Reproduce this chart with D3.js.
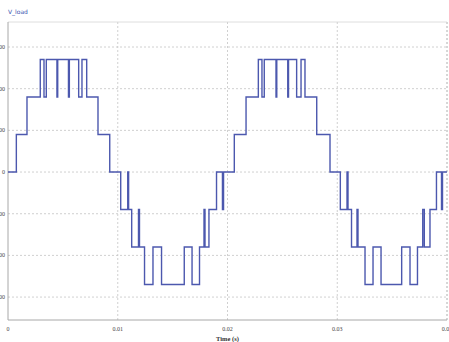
<!DOCTYPE html>
<html>
<head>
<meta charset="utf-8">
<script src="https://cdn.jsdelivr.net/npm/d3@7"></script>
<style>
  body { margin: 0; background: #fff; }
  svg { display: block; }
</style>
</head>
<body>
<div id="chart"></div>
<script>
    // switching instants (s) and the output level (V) after each one
    const switchTimes = [
        0, 0.00076, 0.00173, 0.00294, 0.00328, 0.00349, 0.00446, 0.00453, 0.00551, 0.00559,
        0.00644, 0.00674, 0.00717, 0.00820, 0.00927,
        0.01027, 0.01091, 0.01099, 0.01127, 0.01189, 0.01198, 0.01244, 0.01321, 0.01399,
        0.01606, 0.01677, 0.01745, 0.01786, 0.01795, 0.01831, 0.01900, 0.01954, 0.01964,
        0.02062, 0.02169, 0.02281, 0.02314, 0.02335, 0.02442, 0.02449, 0.02549, 0.02556,
        0.02630, 0.02670, 0.02706, 0.02813, 0.02934,
        0.03028, 0.03089, 0.03098, 0.03130, 0.03180, 0.03189, 0.03253, 0.03326, 0.03399,
        0.03587, 0.03663, 0.03731, 0.03779, 0.03793, 0.03845, 0.03904, 0.03950, 0.03959,
        0.04
    ]
    const switchLevels = [
        0, 90, 180, 270, 180, 270, 180, 270, 180, 270,
        180, 270, 180, 90, 0,
        -90, 0, -90, -180, -90, -180, -270, -180, -270,
        -180, -270, -180, -90, -180, -90, 0, -90, 0,
        90, 180, 270, 180, 270, 180, 270, 180, 270,
        180, 270, 180, 90, 0,
        -90, 0, -90, -180, -90, -180, -270, -180, -270,
        -180, -270, -180, -90, -180, -90, 0, -90, 0,
        0
    ]

    // axis ticks
    const xTicks = [0, 0.01, 0.02, 0.03, 0.04]
    const xTickLabels = ["0", "0.01", "0.02", "0.03", "0.04"]
    const yTicks = [300, 200, 100, 0, -100, -200, -300]

    let width = 449
    let height = 342
    let margin = {top: 22, right: 2, bottom: 22, left: 8}

    let svg = d3.select("#chart")
        .append("svg")
        .attr("width", width)
        .attr("height", height)

    let x = d3.scaleLinear()
        .domain([0, 0.04])
        .range([margin.left, width - margin.right])

    let y = d3.scaleLinear()
        .domain([-355, 360])
        .range([height - margin.bottom, margin.top])

    // horizontal grid
    svg.append("g")
        .selectAll("line")
        .data(yTicks)
        .join("line")
        .attr("x1", x(0))
        .attr("x2", x(0.04))
        .attr("y1", d => y(d))
        .attr("y2", d => y(d))
        .attr("stroke", "#c4c4c4")
        .attr("stroke-width", 0.8)
        .attr("stroke-dasharray", "2,2")

    // vertical grid (last one is the right border)
    svg.append("g")
        .selectAll("line")
        .data(xTicks.slice(1))
        .join("line")
        .attr("x1", d => x(d))
        .attr("x2", d => x(d))
        .attr("y1", y(360))
        .attr("y2", y(-355))
        .attr("stroke", d => d == 0.04 ? "#999" : "#c4c4c4")
        .attr("stroke-width", 0.8)
        .attr("stroke-dasharray", "2,2")

    // top border
    svg.append("line")
        .attr("x1", x(0)).attr("x2", x(0.04))
        .attr("y1", y(360)).attr("y2", y(360))
        .attr("stroke", "#d6d6d6")
        .attr("stroke-width", 0.8)

    // left and bottom axis lines
    svg.append("path")
        .attr("d", "M" + x(0) + "," + y(360) + "V" + y(-355) + "H" + x(0.04))
        .attr("fill", "none")
        .attr("stroke", "#a8a8a8")
        .attr("stroke-width", 1)

    // the waveform
    let wave = switchTimes.map((t, i) => ({t: t, v: switchLevels[i]}))
    let line = d3.line()
        .x(d => x(d.t))
        .y(d => y(d.v))
        .curve(d3.curveStepAfter)

    svg.append("path")
        .datum(wave)
        .attr("d", line)
        .attr("fill", "none")
        .attr("stroke", "#4c58ae")
        .attr("stroke-width", 1.4)

    // y tick labels (mostly cut off at the left edge)
    svg.append("g")
        .selectAll("text")
        .data(yTicks)
        .join("text")
        .attr("x", 5)
        .attr("y", d => y(d) + 2)
        .attr("text-anchor", "end")
        .style("font-family", "Liberation Serif")
        .style("font-size", "6px")
        .style("fill", "#444")
        .text(d => d)

    // x tick labels
    svg.append("g")
        .selectAll("text")
        .data(xTicks)
        .join("text")
        .attr("x", d => x(d))
        .attr("y", 331)
        .attr("text-anchor", "middle")
        .style("font-family", "Liberation Serif")
        .style("font-size", "6px")
        .style("fill", "#444")
        .text((d, i) => xTickLabels[i])

    svg.append("text")
        .attr("x", x(0.02))
        .attr("y", 341)
        .attr("text-anchor", "middle")
        .style("font-family", "Liberation Serif")
        .style("font-size", "6.5px")
        .style("font-weight", "bold")
        .style("fill", "#333")
        .text("Time (s)")

    // trace name
    svg.append("text")
        .attr("x", 8)
        .attr("y", 14)
        .style("font-family", "DejaVu Sans")
        .style("font-size", "6px")
        .style("fill", "#3a55b0")
        .text("V_load")
</script>
</body>
</html>
